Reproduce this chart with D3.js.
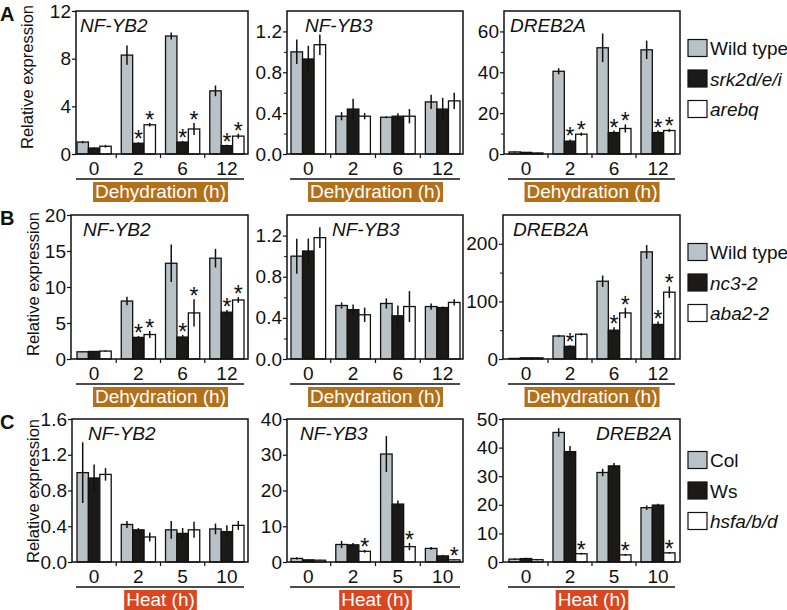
<!DOCTYPE html>
<html><head><meta charset="utf-8">
<script src="https://cdn.jsdelivr.net/npm/d3@7/dist/d3.min.js"></script>
<style>body{margin:0;background:#fff}svg{display:block;font-family:"Liberation Sans",Arial,Helvetica,sans-serif}</style>
</head><body><svg id="c" width="787" height="610"></svg>
<script>
// ---------- data ----------
const dehydTimes = ["0","2","6","12"];
const heatTimes  = ["0","2","5","10"];
const seriesA = ["Wild type","srk2d/e/i","arebq"];
const seriesB = ["Wild type","nc3-2","aba2-2"];
const seriesC = ["Col","Ws","hsfa/b/d"];
const italicA = [false,true,true];
const italicB = [false,true,true];
const italicC = [false,false,true];

// values[group][series]
const a1Vals = [[1.0,0.5,0.65],[8.3,0.9,2.45],[9.9,1.0,2.1],[5.3,0.7,1.5]];
const a1Errs = [[0.1,0.05,0.12],[0.8,0.08,0.15],[0.3,0.1,0.5],[0.45,0.08,0.2]];
const a1Star = [[0,0,0],[0,1,1],[0,1,1],[0,1,1]];
const a2Vals = [[1.0,0.93,1.07],[0.37,0.44,0.37],[0.36,0.37,0.37],[0.51,0.44,0.52]];
const a2Errs = [[0.12,0.13,0.1],[0.04,0.1,0.03],[0.01,0.03,0.07],[0.07,0.11,0.08]];
const a2Star = [[0,0,0],[0,0,0],[0,0,0],[0,0,0]];
const a3Vals = [[1.0,0.8,0.5],[40.5,6.3,9.7],[52,10.5,12.5],[51,10.5,11.5]];
const a3Errs = [[0.3,0.2,0.1],[1.5,0.8,0.8],[7,1,2],[4.5,1,0.8]];
const a3Star = [[0,0,0],[0,1,1],[0,1,1],[0,1,1]];

const b1Vals = [[1.0,1.05,1.1],[8.05,3.0,3.4],[13.3,3.05,6.4],[14.0,6.5,8.2]];
const b1Errs = [[0.05,0.05,0.1],[0.6,0.2,0.5],[2.6,0.3,1.9],[1.3,0.3,0.4]];
const b1Star = [[0,0,0],[0,1,1],[0,1,1],[0,1,1]];
const b2Vals = [[1.0,1.05,1.18],[0.52,0.48,0.43],[0.54,0.42,0.51],[0.51,0.5,0.55]];
const b2Errs = [[0.17,0.12,0.1],[0.03,0.05,0.07],[0.05,0.1,0.15],[0.03,0.01,0.03]];
const b2Star = [[0,0,0],[0,0,0],[0,0,0],[0,0,0]];
const b3Vals = [[1,2,2],[40,22,43],[135,50,80],[186,60,116]];
const b3Errs = [[0.5,0.5,0.5],[2,2,2],[10,5,9],[12,5,10]];
const b3Star = [[0,0,0],[0,1,0],[0,1,1],[0,1,1]];

const c1Vals = [[1.0,0.94,0.98],[0.42,0.36,0.28],[0.36,0.32,0.36],[0.37,0.34,0.41]];
const c1Errs = [[0.34,0.15,0.07],[0.04,0.02,0.05],[0.1,0.06,0.09],[0.06,0.07,0.05]];
const c1Star = [[0,0,0],[0,0,0],[0,0,0],[0,0,0]];
const c2Vals = [[1.0,0.6,0.5],[4.9,4.8,3.0],[30.2,16.2,4.3],[3.8,1.7,0.6]];
const c2Errs = [[0.3,0.1,0.1],[1.0,0.5,0.4],[5,1,1],[0.4,0.3,0.1]];
const c2Star = [[0,0,0],[0,0,1],[0,0,1],[0,0,1]];
const c3Vals = [[1.0,1.2,0.8],[45.3,38.6,2.9],[31.3,33.6,2.5],[19.0,19.9,3.2]];
const c3Errs = [[0.3,0.3,0.2],[1.5,2.0,0.3],[1.3,1.0,0.3],[0.8,0.5,0.3]];
const c3Star = [[0,0,0],[0,0,1],[0,0,1],[0,0,1]];

const rowLetters = ["A","B","C"];
const conditions = ["Dehydration (h)","Dehydration (h)","Heat (h)"];

// tick labels per panel
const a1Ticks = ["0","4","8","12"], a2Ticks = ["0.0","0.4","0.8","1.2"], a3Ticks = ["0","20","40","60"];
const b1Ticks = ["0","5","10","15","20"], b2Ticks = ["0.0","0.4","0.8","1.2"], b3Ticks = ["0","100","200"];
const c1Ticks = ["0.0","0.4","0.8","1.2","1.6"], c2Ticks = ["0","10","20","30","40"], c3Ticks = ["0","10","20","30","40","50"];

// ---------- styles / layout ----------
const fills = ["#b8c2c7","#1c1a18","#ffffff"];
const condColors = ["#b3701b","#b3701b","#d8471f"];
const rowTop = [11,215,419], rowBottom = [154,359,562];
const colRight = [248,463,680];
const barRange = [[77,244],[291,460],[509,675]];

const panels = [
 {r:0,c:0,fl:76, title:"NF-YB2",tx:80, anchor:"start", dom:[0,12], ticks:a1Ticks, minor:[], v:a1Vals,e:a1Errs,s:a1Star},
 {r:0,c:1,fl:287,title:"NF-YB3",tx:305,anchor:"start", dom:[0,1.4],ticks:a2Ticks,minor:[0.2,0.6,1.0],v:a2Vals,e:a2Errs,s:a2Star},
 {r:0,c:2,fl:504,title:"DREB2A",tx:510,anchor:"start", dom:[0,70], ticks:a3Ticks,minor:[10,30,50],v:a3Vals,e:a3Errs,s:a3Star},
 {r:1,c:0,fl:71, title:"NF-YB2",tx:83, anchor:"start", dom:[0,20], ticks:b1Ticks,minor:[],v:b1Vals,e:b1Errs,s:b1Star},
 {r:1,c:1,fl:287,title:"NF-YB3",tx:332,anchor:"start", dom:[0,1.4],ticks:b2Ticks,minor:[0.2,0.6,1.0],v:b2Vals,e:b2Errs,s:b2Star},
 {r:1,c:2,fl:503,title:"DREB2A",tx:513,anchor:"start", dom:[0,250],ticks:b3Ticks,minor:[50,150],v:b3Vals,e:b3Errs,s:b3Star},
 {r:2,c:0,fl:72, title:"NF-YB2",tx:88, anchor:"start", dom:[0,1.6],ticks:c1Ticks,minor:[],v:c1Vals,e:c1Errs,s:c1Star},
 {r:2,c:1,fl:287,title:"NF-YB3",tx:300,anchor:"start", dom:[0,40], ticks:c2Ticks,minor:[],v:c2Vals,e:c2Errs,s:c2Star},
 {r:2,c:2,fl:503,title:"DREB2A",tx:672,anchor:"end",   dom:[0,50], ticks:c3Ticks,minor:[],v:c3Vals,e:c3Errs,s:c3Star}
];
const rowGroups = [dehydTimes,dehydTimes,heatTimes];
const rowSeries = [seriesA,seriesB,seriesC];
const rowItalic = [italicA,italicB,italicC];

const svg = d3.select("#c");
const FS = 19;

panels.forEach(p => {
  const top = rowTop[p.r], bot = rowBottom[p.r], fr = colRight[p.c];
  const groups = rowGroups[p.r];
  const g = svg.append("g");
  const y = d3.scaleLinear().domain(p.dom).range([bot, top]);
  const x = d3.scaleBand().domain(groups).range(barRange[p.c]).paddingInner(0.227).paddingOuter(0);
  const xs = d3.scaleBand().domain([0,1,2]).range([0, x.bandwidth()]);

  // bars
  groups.forEach((gr, gi) => {
    [0,1,2].forEach(si => {
      const val = p.v[gi][si];
      g.append("rect")
        .attr("x", x(gr) + xs(si)).attr("width", xs.bandwidth())
        .attr("y", y(val)).attr("height", y(0) - y(val))
        .attr("fill", fills[si]).attr("stroke", "#111").attr("stroke-width", 1.3);
    });
  });
  // error bars + stars
  groups.forEach((gr, gi) => {
    [0,1,2].forEach(si => {
      const val = p.v[gi][si], err = p.e[gi][si];
      const cx = x(gr) + xs(si) + xs.bandwidth()/2;
      g.append("line").attr("x1",cx).attr("x2",cx)
        .attr("y1", y(Math.max(0,val-err))).attr("y2", y(val+err))
        .attr("stroke","#111").attr("stroke-width",1.5);
      if (p.s[gi][si]) {
        g.append("text").attr("x",cx).attr("y", y(val+err) + 5)
          .attr("text-anchor","middle").attr("font-size",23).attr("fill","#111").text("*");
      }
    });
  });
  // frame
  g.append("rect").attr("x",p.fl).attr("y",top).attr("width",fr-p.fl).attr("height",bot-top)
    .attr("fill","none").attr("stroke","#111").attr("stroke-width",1.5);
  // y axis (tick values parsed from the label strings)
  const tv = p.ticks.map(Number);
  const ya = d3.axisLeft(y).tickValues(tv).tickSize(4).tickPadding(1).tickFormat((d, i) => p.ticks[i]);
  const yg = g.append("g").attr("transform",`translate(${p.fl},0)`).call(ya);
  yg.select(".domain").remove();
  yg.attr("font-size",FS).attr("font-family",null);
  yg.selectAll("text").attr("fill","#111");
  yg.selectAll("line").attr("stroke","#111").attr("stroke-width",1.2);
  if (p.minor.length) {
    const ym = d3.axisLeft(y).tickValues(p.minor).tickSize(3).tickFormat("");
    const mg = g.append("g").attr("transform",`translate(${p.fl},0)`).call(ym);
    mg.select(".domain").remove();
    mg.selectAll("line").attr("stroke","#111").attr("stroke-width",1);
  }
  // x labels
  groups.forEach(gr => {
    g.append("text").attr("x", x(gr) + x.bandwidth()/2).attr("y", bot + 21)
      .attr("text-anchor","middle").attr("font-size",FS).attr("fill","#111").text(gr);
  });
  // x separator ticks
  groups.slice(1).forEach(gr => {
    const sx = x(gr) - x.step()*x.paddingInner()/2;
    g.append("line").attr("x1",sx).attr("x2",sx).attr("y1",bot).attr("y2",bot+4)
      .attr("stroke","#111").attr("stroke-width",1.2);
  });
  // underline and condition box
  const [r0, r1] = barRange[p.c];
  g.append("line").attr("x1", r0 - 1).attr("x2", r1).attr("y1", bot + 25).attr("y2", bot + 25)
    .attr("stroke","#111").attr("stroke-width",1.5);
  const mid = (r0 + r1) / 2;
  const boxG = g.append("g");
  const lab = g.append("text").attr("x", mid).attr("y", bot + 44).attr("text-anchor","middle")
    .attr("font-size",FS).attr("fill","#fff").text(conditions[p.r]);
  const bb = lab.node().getBBox();
  boxG.append("rect").attr("x", bb.x - 2).attr("y", bot + 28).attr("width", bb.width + 4).attr("height", 20)
    .attr("fill", condColors[p.r]);
  // title
  g.append("text").attr("x", p.tx).attr("y", top + 21).attr("text-anchor", p.anchor)
    .attr("font-size",FS).attr("font-style","italic").attr("fill","#111").text(p.title);
});

// y-axis labels and row letters
const ylabX = [33, 39, 39];
const ylabY = [77, 284, 491];
rowTop.forEach((t, r) => {
  svg.append("text").attr("transform", `translate(${ylabX[r]},${ylabY[r]}) rotate(-90)`)
    .attr("text-anchor","middle").attr("font-size",16.5).attr("fill","#111").text("Relative expression");
  svg.append("text").attr("x", 0).attr("y", t + 10).attr("font-size",20).attr("font-weight","bold")
    .attr("fill","#111").text(rowLetters[r]);
});

// legends
const legendTop = [48, 252, 460];
rowSeries.forEach((ser, r) => {
  ser.forEach((name, i) => {
    const cy = legendTop[r] + i * 30.5;
    svg.append("rect").attr("x", 688).attr("y", cy - 8.5).attr("width", 19).attr("height", 17)
      .attr("fill", fills[i]).attr("stroke","#111").attr("stroke-width",1.2);
    svg.append("text").attr("x", 710).attr("y", cy + 7).attr("font-size", FS)
      .attr("font-style", rowItalic[r][i] ? "italic" : "normal").attr("fill","#111").text(name);
  });
});
</script>
</body></html>
